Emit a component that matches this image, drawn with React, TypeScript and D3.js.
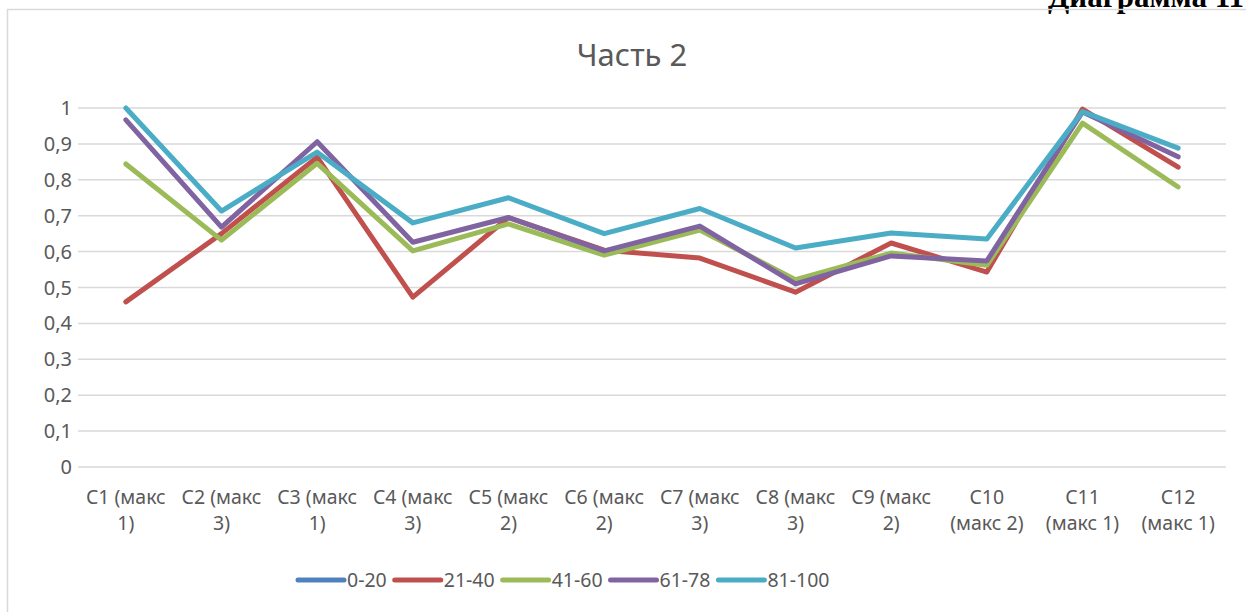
import React from 'react';
import * as d3 from 'd3';

const categories = [
  'C1 (макс\n1)', 'C2 (макс\n3)', 'C3 (макс\n1)', 'C4 (макс\n3)', 'C5 (макс\n2)', 'C6 (макс\n2)',
  'C7 (макс\n3)', 'C8 (макс\n3)', 'C9 (макс\n2)', 'C10\n(макс 2)', 'C11\n(макс 1)', 'C12\n(макс 1)',
];

const yTicks = [0, 0.1, 0.2, 0.3, 0.4, 0.5, 0.6, 0.7, 0.8, 0.9, 1];

const seriesNames = ['0-20', '21-40', '41-60', '61-78', '81-100'];
const seriesColors = ['#4F81BD', '#C0504D', '#9BBB59', '#8064A2', '#4BACC6'];

const s0to20: (number | null)[] = [null, null, null, null, null, null, null, null, null, null, null, null];
const s21to40 = [0.46, 0.65, 0.863, 0.473, 0.695, 0.604, 0.582, 0.487, 0.624, 0.543, 0.997, 0.835];
const s41to60 = [0.844, 0.632, 0.846, 0.602, 0.677, 0.59, 0.66, 0.522, 0.596, 0.562, 0.958, 0.78];
const s61to78 = [0.967, 0.668, 0.906, 0.626, 0.695, 0.602, 0.671, 0.51, 0.588, 0.574, 0.989, 0.864];
const s81to100 = [1.0, 0.713, 0.877, 0.68, 0.75, 0.65, 0.72, 0.61, 0.652, 0.635, 0.99, 0.888];

const seriesValues = [s0to20, s21to40, s41to60, s61to78, s81to100];

const W = 1246;
const H = 612;
const font = '"Noto Sans", sans-serif';
const textColor = '#595959';
const legendFont = 19.5;

// rough Noto Sans advance widths (em) for legend labels
const textWidth = (s: string) =>
  s.split('').reduce((w, ch) => w + (ch === '-' ? 0.322 : 0.572), 0) * legendFont;

export default function App() {
  const x = d3.scaleBand().domain(categories).range([78, 1226]);
  const y = d3.scaleLinear().domain([0, 1]).range([467, 108]);

  const line = d3.line<number | null>()
    .defined(d => d != null)
    .x((_, i) => (x(categories[i]) ?? 0) + x.bandwidth() / 2)
    .y(d => y(d as number));

  const lineLen = 46;
  const legendX: number[] = [];
  let cur = 298;
  seriesNames.forEach(n => {
    legendX.push(cur);
    cur += lineLen + 3 + textWidth(n) + 8;
  });

  return (
    <svg width={W} height={H} style={{ position: 'fixed', left: 0, top: 0, background: '#fff' }}>
      <text x={1048} y={7} fontFamily='"Liberation Serif", serif' fontWeight="bold" fontSize={31} fill="#000">
        Диаграмма 11
      </text>
      <rect x={7.5} y={9.5} width={W + 10} height={H + 10} fill="none" stroke="#d9d9d9" strokeWidth={1.5} />

      <text x={632} y={66} textAnchor="middle" fontFamily={font} fontSize={31} fill={textColor}>
        Часть 2
      </text>

      {yTicks.map(t => (
        <g key={t}>
          <line x1={78} x2={1226} y1={y(t)} y2={y(t)} stroke="#d9d9d9" strokeWidth={1.5} />
          <text x={72} y={y(t)} dy="0.35em" textAnchor="end" fontFamily={font} fontSize={20} fill={textColor}>
            {String(t).replace('.', ',')}
          </text>
        </g>
      ))}

      {categories.map(c => {
        const cx = (x(c) ?? 0) + x.bandwidth() / 2;
        return (
          <text key={c} textAnchor="middle" fontFamily={font} fontSize={19.5} fill={textColor}>
            {c.split('\n').map((part, i) => (
              <tspan key={i} x={cx} y={504 + i * 26}>{part}</tspan>
            ))}
          </text>
        );
      })}

      {seriesValues.map((vals, i) => (
        <path
          key={seriesNames[i]}
          d={line(vals) ?? ''}
          fill="none"
          stroke={seriesColors[i]}
          strokeWidth={5}
          strokeLinejoin="round"
          strokeLinecap="round"
        />
      ))}

      {seriesNames.map((name, i) => (
        <g key={name} transform={`translate(${legendX[i]},580)`}>
          <line x1={0} x2={lineLen} y1={0} y2={0} stroke={seriesColors[i]} strokeWidth={5} strokeLinecap="round" />
          <text x={lineLen + 3} y={0} dy="0.35em" fontFamily={font} fontSize={legendFont} fill={textColor}>{name}</text>
        </g>
      ))}
    </svg>
  );
}
